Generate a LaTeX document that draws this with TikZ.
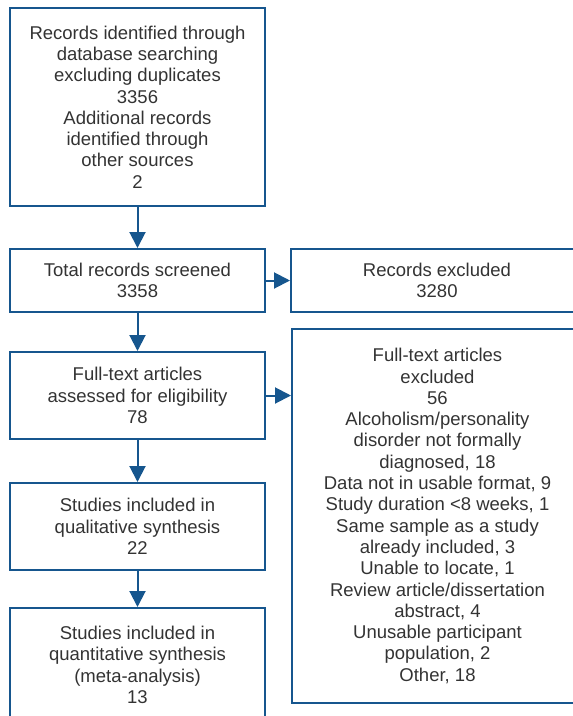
\documentclass[tikz,border=0pt]{standalone}
\usepackage{fontspec}
\setmainfont{Liberation Sans}
\usetikzlibrary{arrows.meta}
\definecolor{flowblue}{RGB}{22,86,142}
\tikzset{
box/.style={ % boxes of the flow chart
draw=flowblue,
line width=2pt,
align=center,
inner sep=0pt,
text=black!80,
font=\fontsize{18.5}{21.3}\selectfont},
flow/.style={ % arrows between boxes
draw=flowblue,
line width=2pt,
-{Triangle[width=16pt,length=16pt]}}}

\begin{document}
\begin{tikzpicture}[x=1pt,y=-1pt]
	\useasboundingbox (0,0) rectangle (573,716);
	\node[box, minimum width=255pt, minimum height=198pt] (ident) at (137.5,107) {Records identified through\\database searching\\excluding duplicates\\3356\\Additional records\\identified through\\other sources\\2};
	\node[box, minimum width=255pt, minimum height=63pt] (screen) at (137.5,280.5) {Total records screened\\3358};
	\node[box, minimum width=255pt, minimum height=87pt] (elig) at (137.5,395.5) {Full-text articles\\assessed for eligibility\\78};
	\node[box, minimum width=255pt, minimum height=87pt] (qual) at (137.5,526.5) {Studies included in\\qualitative synthesis\\22};
	\node[box, minimum width=255pt, minimum height=114pt] (quant) at (137.5,665) {Studies included in\\quantitative synthesis\\(meta-analysis)\\13};
	\node[box, minimum width=292pt, minimum height=63pt] (excl) at (437,280.5) {Records excluded\\3280};
	\node[box, minimum width=291pt, minimum height=374pt] (ftexcl) at (437.5,516) {Full-text articles\\excluded\\56\\Alcoholism/personality\\disorder not formally\\diagnosed, 18\\Data not in usable format, 9\\Study duration <8 weeks, 1\\Same sample as a study\\already included, 3\\Unable to locate, 1\\Review article/dissertation\\abstract, 4\\Unusable participant\\population, 2\\Other, 18};
	\draw[flow] (ident) -- (screen);
	\draw[flow] (screen) -- (elig);
	\draw[flow] (elig) -- (qual);
	\draw[flow] (qual) -- (quant);
	\draw[flow] (screen) -- (excl);
	\draw[flow] (elig.east) -- (elig.east -| ftexcl.west);
\end{tikzpicture}
\end{document}
